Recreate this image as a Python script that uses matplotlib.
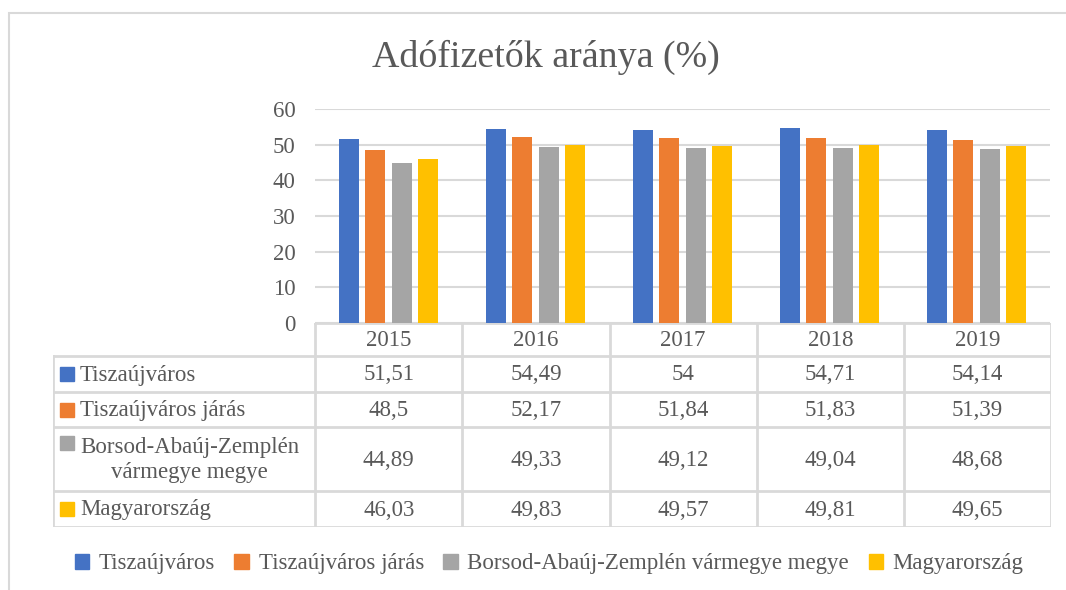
import numpy as np
import matplotlib
matplotlib.use("Agg")
import matplotlib.pyplot as plt
from matplotlib.patches import Patch, Rectangle

years = ["2015", "2016", "2017", "2018", "2019"]
series = ["Tiszaújváros", "Tiszaújváros járás",
          "Borsod-Abaúj-Zemplén vármegye megye", "Magyarország"]
table_labels = ["Tiszaújváros", "Tiszaújváros járás",
                "Borsod-Abaúj-Zemplén\nvármegye megye", "Magyarország"]
tiszaujvaros = [51.51, 54.49, 54, 54.71, 54.14]
jaras = [48.5, 52.17, 51.84, 51.83, 51.39]
baz = [44.89, 49.33, 49.12, 49.04, 48.68]
magyarorszag = [46.03, 49.83, 49.57, 49.81, 49.65]
values = [tiszaujvaros, jaras, baz, magyarorszag]
colors = ["#4472C4", "#ED7D31", "#A5A5A5", "#FFC000"]

txt = "#595959"
grid = "#D9D9D9"
plt.rcParams['font.family'] = ['Liberation Serif', 'DejaVu Serif']

W, H = 1066, 590
fig = plt.figure(figsize=(W / 100, H / 100), dpi=100)

# outer chart frame (cut off on right and bottom)
fig.patches.append(Rectangle((9 / W, -0.1), 1.2, 1 - 13 / H + 0.1,
                             transform=fig.transFigure, fill=False,
                             edgecolor=grid, lw=1.5))

fig.text(546 / W, 1 - 57 / H, "Adófizetők aránya (%)", ha='center',
         va='center', fontsize=27.3, color=txt)

# bar chart
ax = fig.add_axes([315 / W, 1 - 323 / H, 735 / W, 214 / H])
x = np.arange(len(years))
w, step = 0.137, 0.179
for i, (vals, c) in enumerate(zip(values, colors)):
    ax.bar(x + (i - 1.5) * step, vals, width=w, color=c, zorder=3)
ax.set_xlim(-0.5, len(years) - 0.5)
ax.set_ylim(0, 60)
ax.set_yticks(range(0, 61, 10))
ax.yaxis.grid(True, color=grid, lw=1.5, zorder=0)
ax.set_xticks([])
ax.tick_params(axis='y', length=0, pad=14, labelsize=16.5, labelcolor=txt)
for s in ax.spines.values():
    s.set_visible(False)

# data table
label_w = 262 / 147
tx = fig.add_axes([53 / W, 1 - 527 / H, 998 / W, 204 / H])
tx.set_xlim(-0.5 - label_w, len(years) - 0.5)
row_h = [33, 36, 35, 64, 36]
edges = np.concatenate([[0], np.cumsum(row_h)])
tx.set_ylim(edges[-1], 0)
tx.axis('off')
left = -0.5 - label_w
lk = dict(color=grid, lw=2, solid_capstyle='projecting')
# horizontal lines
tx.plot([-0.5, len(years) - 0.5], [0, 0], **lk)
for e in edges[1:]:
    tx.plot([left, len(years) - 0.5], [e, e], **lk)
# vertical lines
tx.plot([left, left], [edges[1], edges[-1]], **lk)
for k in range(len(years) + 1):
    tx.plot([k - 0.5, k - 0.5], [0, edges[-1]], **lk)

for j, yr in enumerate(years):
    tx.text(j, (edges[0] + edges[1]) / 2 + 1, yr, ha='center', va='center',
            fontsize=16.5, color=txt)
for i, (lab, vals, c) in enumerate(zip(table_labels, values, colors)):
    yc = (edges[i + 1] + edges[i + 2]) / 2 + 1
    if "\n" in lab:
        ym = edges[i + 1] + 16
    else:
        ym = yc - 1
    tx.plot(left + 14 / 147, ym, marker='s', ms=9.5, color=c, lw=0)
    tx.text(left + 27 / 147, yc, lab, ha='left', va='center',
            multialignment='center', fontsize=16.5, color=txt,
            linespacing=1.2)
    for j, v in enumerate(vals):
        tx.text(j, yc, f"{v:g}".replace('.', ','), ha='center', va='center',
                fontsize=16.5, color=txt)

handles = [Patch(color=c, label=s) for s, c in zip(series, colors)]
fig.legend(handles=handles, loc='center', bbox_to_anchor=(549 / W, 1 - 564 / H),
           ncol=4, frameon=False, fontsize=16.5, handlelength=0.65,
           handleheight=0.65, handletextpad=0.4, columnspacing=0.85,
           labelcolor=txt)

fig.savefig("out.png", dpi=100)
